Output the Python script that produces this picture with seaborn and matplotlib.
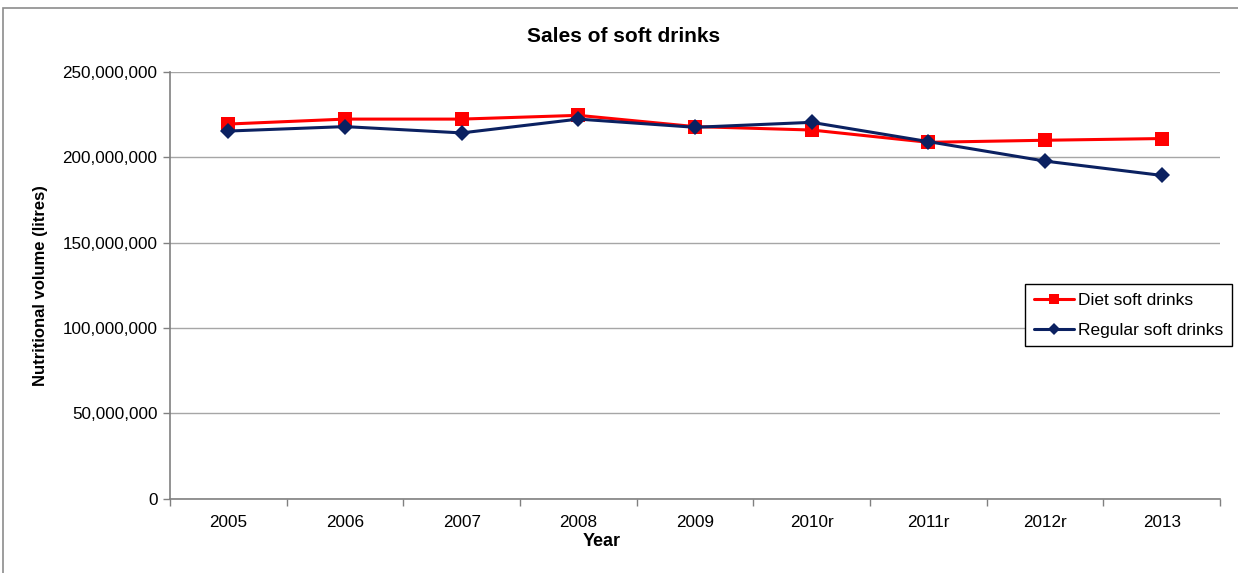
import matplotlib
matplotlib.use("Agg")
import matplotlib.pyplot as plt
import matplotlib.ticker as mticker
from matplotlib.patches import Rectangle
import seaborn as sns
import pandas as pd
import numpy as np

years = ["2005", "2006", "2007", "2008", "2009", "2010r", "2011r", "2012r", "2013"]
diet = [219.5e6, 222.4e6, 222.4e6, 224.6e6, 218.0e6, 216.0e6, 208.8e6, 210.0e6, 211.0e6]
regular = [215.4e6, 218.0e6, 214.3e6, 222.4e6, 217.6e6, 220.5e6, 209.2e6, 197.8e6, 189.4e6]
series_names = ["Diet soft drinks", "Regular soft drinks"]

sns.set_theme(style="white")
plt.rcParams["font.family"] = ["Liberation Sans", "DejaVu Sans"]
plt.rcParams["text.color"] = "black"
plt.rcParams["axes.labelcolor"] = "black"

fig = plt.figure(figsize=(12.38, 5.73), dpi=100)
ax = fig.add_axes([170 / 1238, 1 - 498.6 / 573, (1220 - 170) / 1238, (498.6 - 72) / 573])

# outer chart frame
fig.patches.append(Rectangle((3 / 1238, -0.1), 1.2, (573 - 8) / 573 + 0.1,
                             transform=fig.transFigure, fill=False,
                             edgecolor="#8c8c8c", linewidth=1.2))

df = pd.DataFrame({"Year": years * 2,
                   "value": diet + regular,
                   "series": [series_names[0]] * len(years) + [series_names[1]] * len(years)})

sns.lineplot(data=df[df.series == series_names[0]], x="Year", y="value", ax=ax,
             color="#FF0000", marker="s", markersize=10, markeredgewidth=0,
             linewidth=2.2, sort=False, label=series_names[0])
sns.lineplot(data=df[df.series == series_names[1]], x="Year", y="value", ax=ax,
             color="#0B2161", marker="D", markersize=8.5, markeredgewidth=0,
             linewidth=2.2, sort=False, label=series_names[1])

ax.set_xlim(-0.5, len(years) - 0.5)
ax.set_ylim(0, 250e6)
ax.set_yticks(np.arange(0, 250e6 + 1, 50e6))
ax.yaxis.set_major_formatter(mticker.FuncFormatter(lambda v, p: f"{int(v):,}"))
ax.grid(axis="y", color="#a6a6a6", linewidth=1)
ax.set_axisbelow(True)

ax.set_xticks(range(len(years)))
ax.set_xticklabels(years)
ax.set_xticks(np.arange(-0.5, len(years), 1.0), minor=True)
ax.tick_params(axis="x", which="major", length=0, labelsize=12.3, pad=12, labelcolor="black")
ax.tick_params(axis="x", which="minor", length=5, width=1, color="#808080", bottom=True)
ax.tick_params(axis="y", which="major", length=5, width=1, color="#808080", left=True,
               labelsize=12.3, labelcolor="black", pad=4)

for s in ["top", "right"]:
    ax.spines[s].set_visible(False)
for s in ["left", "bottom"]:
    ax.spines[s].set_color("#808080")
    ax.spines[s].set_linewidth(1.2)

ax.set_xlabel("Year", fontsize=13, fontweight="bold")
ax.xaxis.set_label_coords((602 - 170) / 1050, -(542 - 498.6) / (498.6 - 72), transform=ax.transAxes)
ax.xaxis.label.set_va("center")
ax.set_ylabel("Nutritional volume (litres)", fontsize=12, fontweight="bold")
ax.yaxis.set_label_coords(-(170 - 41) / 1050, 0.5, transform=ax.transAxes)
ax.yaxis.label.set_va("center")
fig.text(624 / 1238, 1 - 37 / 573, "Sales of soft drinks", ha="center", va="center",
         fontsize=15, fontweight="bold")

leg = ax.legend(loc="upper right", bbox_to_anchor=(1232 / 1238, 1 - 284 / 573),
                bbox_transform=fig.transFigure, fontsize=12.5, frameon=True,
                fancybox=False, framealpha=1, edgecolor="black", handlelength=2.3,
                handletextpad=0.25, borderpad=0.5, labelspacing=0.85, markerscale=0.75,
                borderaxespad=0)
leg.get_frame().set_linewidth(1)

fig.savefig("out.png", dpi=100)
